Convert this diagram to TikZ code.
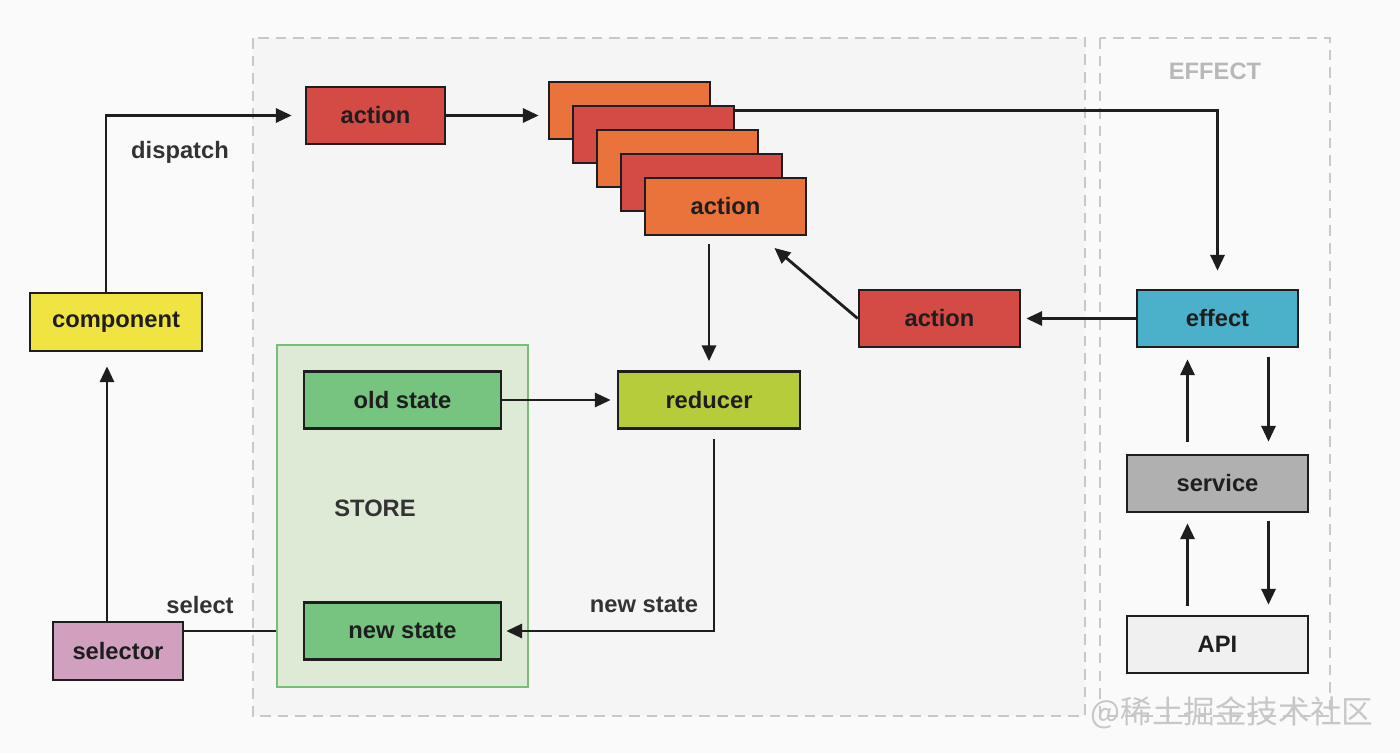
\documentclass[tikz,border=0pt]{standalone}
\usepackage{fontspec}
\setmainfont{Liberation Sans}
\newfontfamily\cjkfont{Noto Sans CJK SC}
\usetikzlibrary{positioning,calc,arrows.meta}
\definecolor{pagebg}{RGB}{250,250,250}
\definecolor{mainbg}{RGB}{245,245,245}
\definecolor{zoneline}{RGB}{200,200,200}
\definecolor{actred}{RGB}{212,74,68}
\definecolor{actorange}{RGB}{234,115,60}
\definecolor{compyellow}{RGB}{240,228,66}
\definecolor{selpink}{RGB}{209,160,190}
\definecolor{effteal}{RGB}{75,176,201}
\definecolor{srvgray}{RGB}{176,176,176}
\definecolor{apigray}{RGB}{240,240,240}
\definecolor{storefill}{RGB}{221,234,214}
\definecolor{storeline}{RGB}{120,190,120}
\definecolor{stategreen}{RGB}{118,196,128}
\definecolor{redolive}{RGB}{183,204,58}
\definecolor{inkdark}{RGB}{30,30,30}

\begin{document}
\begin{tikzpicture}[x=0.02cm,y=-0.02cm,
  font=\bfseries\fontsize{13.5}{16}\selectfont,
  box/.style={draw=inkdark,line width=1.5pt,minimum height=1.14cm,
    inner sep=0pt,text=inkdark},
  link/.style={draw=inkdark,line width=1.6pt},
  arr/.style={link,-{Triangle[length=9pt,width=8pt]},shorten >=0.18cm},
  zone/.style={draw=zoneline,line width=1.2pt,dash pattern=on 6pt off 4pt},
  lbl/.style={text=black!80}]
  \useasboundingbox[fill=pagebg] (0,0) rectangle (1400,753);

  % dashed areas
  \draw[zone,fill=mainbg] (253,38) rectangle (1085,716);
  \draw[zone] (1100,38) rectangle (1330,716);
  \node[text=black!28] (efflbl) at (1215,71) {EFFECT};

  % store
  \node[draw=storeline,fill=storefill,line width=1.2pt,
    minimum width=5.02cm,minimum height=6.84cm] (store) at (402.5,516) {};
  \node[lbl] (storelbl) at (375,508) {STORE};
  \node[box,fill=stategreen,minimum width=3.94cm] (olds) at (402.5,400) {old state};
  \node[box,fill=stategreen,minimum width=3.94cm] (news) at (402.5,631) {new state};

  % view side
  \node[box,fill=compyellow,minimum width=3.44cm,minimum height=1.16cm] (comp) at (116,322) {component};
  \node[box,fill=selpink,minimum width=2.6cm,minimum height=1.16cm] (sel) at (118,651) {selector};

  % actions
  \node[box,fill=actred,minimum width=2.78cm] (act) at (375.5,115.5) {action};
  \foreach \i/\c in {1/actorange,2/actred,3/actorange,4/actred}
    \node[box,fill=\c,minimum width=3.22cm] (stk\i) at (629.5+24*\i-24,110.5+24*\i-24) {};
  \node[box,fill=actorange,minimum width=3.22cm] (stk5) at (725.5,206.5) {action};
  \node[box,fill=actred,minimum width=3.22cm] (act2) at (939.5,318.5) {action};
  \node[box,fill=redolive,minimum width=3.64cm] (red) at (709,400) {reducer};

  % effect side
  \node[box,fill=effteal,minimum width=3.22cm] (eff) at (1217.5,318.5) {effect};
  \node[box,fill=srvgray,minimum width=3.62cm] (srv) at (1217.5,483.5) {service};
  \node[box,fill=apigray,minimum width=3.62cm] (api) at (1217.5,644.5) {API};

  % connectors
  \draw[arr,shorten >=0.26cm] ([xshift=-0.2cm]comp.north) |- (act.west);
  \node[lbl] (dispatch) at (180,152) {dispatch};
  \draw[arr] (act.east) -- (act.east -| stk1.west);
  \draw[arr,shorten >=0.36cm] (stk2.east |- stk1.east) -| (eff.north);
  \draw[arr,shorten <=0.16cm] (red.north |- stk5.south) -- (red.north);
  \draw[arr,shorten >=0.36cm] (act2.west) -- (stk5);
  \draw[arr,shorten >=0.1cm] (eff) -- (act2);
  \draw[arr,shorten >=0.12cm] (olds) -- (red);
  \draw[arr,shorten <=0.18cm,shorten >=0.08cm] ([xshift=0.1cm]red.south) |- (news.east);
  \node[lbl] (newlbl) at (644,605) {new state};
  \draw[link] (sel.east |- news.west) -- (store.west |- news.west);
  \node[lbl] (selectlbl) at (200,605) {select};
  \draw[arr,shorten >=0.28cm] ([xshift=-0.22cm]sel.north) -- ([xshift=-0.22cm]sel.north |- comp.south);

  \draw[arr,shorten <=0.24cm,shorten >=0.22cm] ([xshift=-0.6cm]srv.north) -- ([xshift=-0.6cm]srv.north |- eff.south);
  \draw[arr,shorten <=0.18cm,shorten >=0.24cm] ([xshift=1.02cm]eff.south) -- ([xshift=1.02cm]eff.south |- srv.north);
  \draw[arr,shorten <=0.18cm,shorten >=0.2cm] ([xshift=-0.6cm]api.north) -- ([xshift=-0.6cm]api.north |- srv.south);
  \draw[arr,shorten <=0.16cm,shorten >=0.2cm] ([xshift=1.02cm]srv.south) -- ([xshift=1.02cm]srv.south |- api.north);

  \node[text=black!22,font=\cjkfont\fontsize{18}{20}\selectfont] (mark) at (1232,713) {@稀土掘金技术社区};
\end{tikzpicture}
\end{document}
